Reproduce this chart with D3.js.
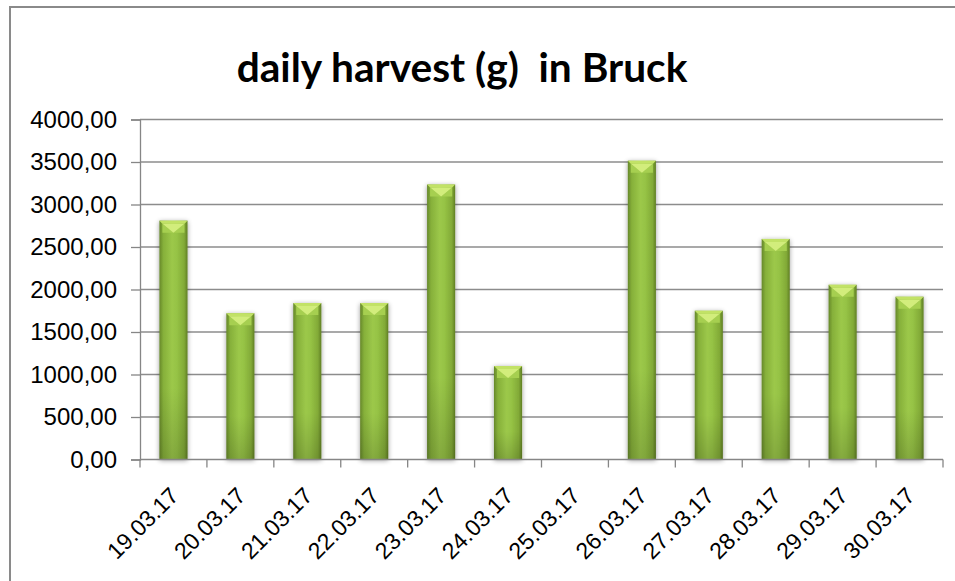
<!DOCTYPE html>
<html>
<head>
<meta charset="utf-8">
<script src="https://cdn.jsdelivr.net/npm/d3@7"></script>
<style>
  html, body { margin: 0; padding: 0; background: #fff; }
  svg { display: block; }
  text { font-family: "Liberation Sans", Arial, sans-serif; fill: #000; }
</style>
</head>
<body>
<svg id="chart" width="955" height="581"></svg>
<script>
const title = "daily harvest (g)  in Bruck";
const dates = ["19.03.17","20.03.17","21.03.17","22.03.17","23.03.17","24.03.17","25.03.17","26.03.17","27.03.17","28.03.17","29.03.17","30.03.17"];
const harvest = [2810, 1720, 1840, 1840, 3235, 1100, 0, 3515, 1750, 2595, 2055, 1915];
const yTicks = [0, 500, 1000, 1500, 2000, 2500, 3000, 3500, 4000];

const svg = d3.select("#chart");
const defs = svg.append("defs");

// chart frame
svg.append("rect").attr("x", 10).attr("y", 7).attr("width", 960).attr("height", 600)
  .attr("fill", "none").attr("stroke", "#8a8a8a").attr("stroke-width", 2);

const pLeft = 140, pRight = 943, pTop = 119.5, pBottom = 459.5;
const y = d3.scaleLinear().domain([0, 4000]).range([pBottom, pTop]);
const x = d3.scaleBand().domain(dates).range([pLeft, pRight]).paddingInner(0.58).paddingOuter(0.29);
const xb = d3.scaleLinear().domain([0, dates.length]).range([pLeft, pRight]);

// gradients
const gH = defs.append("linearGradient").attr("id", "barH").attr("x1", 0).attr("x2", 1).attr("y1", 0).attr("y2", 0);
[[0, "#66882a"], [0.14, "#86b03a"], [0.45, "#9cc84a"], [0.62, "#96c345"], [0.88, "#82aa37"], [1, "#607f24"]]
  .forEach(([o, c]) => gH.append("stop").attr("offset", o).attr("stop-color", c));
const gV = defs.append("linearGradient").attr("id", "barV").attr("x1", 0).attr("x2", 0).attr("y1", 0).attr("y2", 1);
[[0, "#000", 0], [0.7, "#000", 0], [1, "#000", 0.15]]
  .forEach(([o, c, a]) => gV.append("stop").attr("offset", o).attr("stop-color", c).attr("stop-opacity", a));
const sh = defs.append("filter").attr("id", "shadow").attr("x", "-40%").attr("y", "-10%").attr("width", "180%").attr("height", "120%");
sh.append("feGaussianBlur").attr("in", "SourceAlpha").attr("stdDeviation", 2.5).attr("result", "b");
sh.append("feOffset").attr("in", "b").attr("dx", 0).attr("dy", 1).attr("result", "o");
sh.append("feComponentTransfer").attr("in", "o").attr("result", "s")
  .append("feFuncA").attr("type", "linear").attr("slope", 0.4);
const m = sh.append("feMerge");
m.append("feMergeNode").attr("in", "s");
m.append("feMergeNode").attr("in", "SourceGraphic");

// gridlines
svg.append("g").selectAll("line").data(yTicks.filter(d => d > 0)).join("line")
  .attr("x1", pLeft).attr("x2", pRight).attr("y1", d => y(d)).attr("y2", d => y(d))
  .attr("stroke", "#8c8c8c").attr("stroke-width", 1.3);

// y axis
const yAxis = svg.append("g").attr("transform", `translate(${pLeft},0)`)
  .call(d3.axisLeft(y).tickValues(yTicks).tickSize(9).tickPadding(14)
    .tickFormat(d => d3.format(".2f")(d).replace(".", ",")));
yAxis.select(".domain").attr("stroke", "#868686").attr("stroke-width", 1.3);
yAxis.selectAll(".tick line").attr("stroke", "#868686").attr("stroke-width", 1.3);
yAxis.selectAll("text").attr("font-size", 24).attr("fill", "#000");

// bars
const bars = svg.append("g").selectAll("g").data(dates.map((d, i) => ({d, v: harvest[i]})).filter(o => o.v > 0)).join("g");
bars.append("rect").attr("x", o => x(o.d)).attr("y", o => y(o.v)).attr("width", x.bandwidth())
  .attr("height", o => pBottom - y(o.v)).attr("fill", "url(#barH)").attr("filter", "url(#shadow)");
bars.append("rect").attr("x", o => x(o.d)).attr("y", o => y(o.v)).attr("width", x.bandwidth())
  .attr("height", o => pBottom - y(o.v)).attr("fill", "url(#barV)");
// top bevel
bars.append("path").attr("d", o => {
  const x0 = x(o.d), x1 = x0 + x.bandwidth(), yt = y(o.v), b = 3;
  return `M${x0},${yt}L${x1},${yt}L${x1 - b},${yt + b}L${x0 + b},${yt + b}Z`;
}).attr("fill", "#c2e266");
bars.append("path").attr("d", o => {
  const x0 = x(o.d), x1 = x0 + x.bandwidth(), yt = y(o.v), b = 3;
  const xc = (x0 + x1) / 2;
  return `M${x0 + b},${yt + b}L${xc},${yt + 12}L${x0 + b},${yt + 12}Z M${x1 - b},${yt + b}L${xc},${yt + 12}L${x1 - b},${yt + 12}Z`;
}).attr("fill", "#a6cf50");
bars.append("path").attr("d", o => {
  const x0 = x(o.d), x1 = x0 + x.bandwidth(), yt = y(o.v), b = 3;
  const xc = (x0 + x1) / 2;
  return `M${x0 + b},${yt + b}L${x1 - b},${yt + b}L${xc},${yt + 12}Z`;
}).attr("fill", "#d2ed7c");

// x axis
svg.append("line").attr("x1", pLeft).attr("x2", pRight).attr("y1", pBottom).attr("y2", pBottom)
  .attr("stroke", "#868686").attr("stroke-width", 1.3);
svg.append("g").selectAll("line").data(d3.range(dates.length + 1)).join("line")
  .attr("x1", i => xb(i)).attr("x2", i => xb(i)).attr("y1", pBottom).attr("y2", pBottom + 8)
  .attr("stroke", "#868686").attr("stroke-width", 1.3);
svg.append("g").selectAll("text").data(dates).join("text")
  .attr("transform", d => `translate(${x(d) + x.bandwidth() / 2 + 1},${pBottom + 32}) rotate(-45)`)
  .attr("text-anchor", "end").attr("dominant-baseline", "central")
  .attr("font-size", 23).text(d => d);

// title
const t = svg.append("text").attr("x", 462).attr("y", 81.5).attr("text-anchor", "middle")
  .style("font-family", "Lato, 'Liberation Sans', Arial, sans-serif")
  .style("font-weight", "bold").attr("font-size", 44).style("white-space", "pre").text(title);
const w = t.node().getComputedTextLength();
t.attr("font-size", 44 * 451 / w);
</script>
</body>
</html>
